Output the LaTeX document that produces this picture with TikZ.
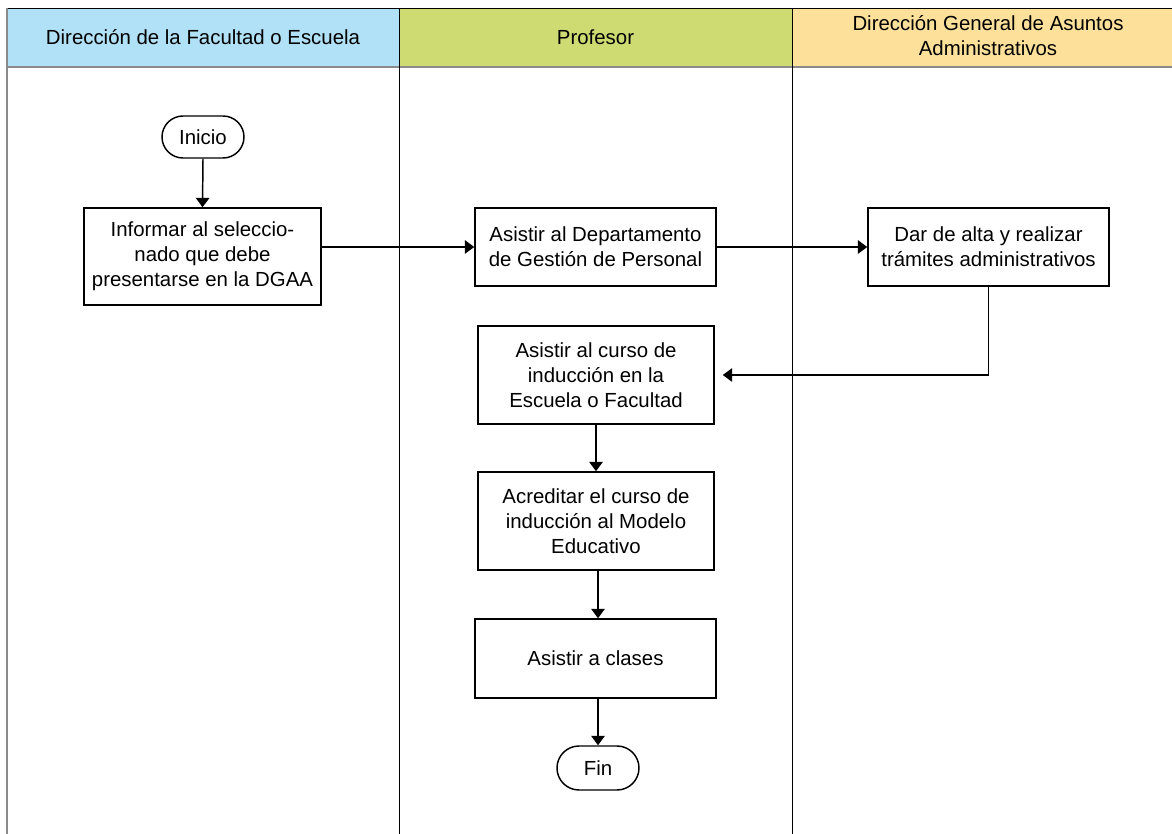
\documentclass[tikz,border=0pt]{standalone}
\usepackage{fontspec}
\setmainfont{Liberation Sans}
\usetikzlibrary{arrows.meta,shapes.misc}
\definecolor{laneA}{HTML}{B1E1F6}
\definecolor{laneB}{HTML}{CEDB73}
\definecolor{laneC}{HTML}{FDE19B}
\definecolor{sepgray}{HTML}{8A8A8A}
\tikzset{
  proc/.style={draw=black, line width=1.1pt, fill=white, align=center, inner sep=2pt,
    font=\fontsize{15.3pt}{18.8pt}\selectfont},
  term/.style={draw=black, line width=1.1pt, fill=white, rounded rectangle, align=center,
    inner sep=0pt, font=\fontsize{15.3pt}{18.8pt}\selectfont},
  flow/.style={line width=1.1pt, -{Triangle[length=7pt,width=10pt]}},
  head/.style={align=center, font=\fontsize{15.3pt}{18.8pt}\selectfont},
}
\begin{document}
\begin{tikzpicture}[x=0.75pt,y=-0.75pt]
\useasboundingbox (0,0) rectangle (1172,834);
% header fills
\fill[laneA] (7,8) rectangle (399,67);
\fill[laneB] (399,8) rectangle (792,67);
\fill[laneC] (792,8) rectangle (1172,67);
\draw[black, line width=0.6pt] (7,8) -- (1172,8);
\draw[sepgray, line width=0.8pt] (7,67) -- (1172,67);
\draw[sepgray, line width=0.8pt] (7,8) -- (7,834);
\draw[black, line width=0.6pt] (399,8) -- (399,834);
\draw[black, line width=0.6pt] (792,8) -- (792,834);
\node[head] (hA) at (203,37.5) {Dirección de la Facultad o Escuela};
\node[head] (hB) at (595.5,37.5) {Profesor};
\node[head] (hC) at (988,36) {Dirección General de Asuntos\\Administrativos};
% nodes
\node[term, minimum width=82*0.75pt, minimum height=42*0.75pt] (ini) at (203,137) {Inicio};
\node[proc, minimum width=237*0.75pt, minimum height=97*0.75pt] (inf) at (202.5,256.5) {Informar al seleccio-\\nado que debe\\presentarse en la DGAA};
\node[proc, minimum width=241*0.75pt, minimum height=78*0.75pt] (dep) at (595.5,247) {Asistir al Departamento\\de Gestión de Personal};
\node[proc, minimum width=241*0.75pt, minimum height=78*0.75pt] (dar) at (988.5,247) {Dar de alta y realizar\\trámites administrativos};
\node[proc, minimum width=236*0.75pt, minimum height=98*0.75pt] (cur) at (596,375) {Asistir al curso de\\inducción en la\\Escuela o Facultad};
\node[proc, minimum width=236*0.75pt, minimum height=98*0.75pt] (acr) at (596,521) {Acreditar el curso de\\inducción al Modelo\\Educativo};
\node[proc, minimum width=241*0.75pt, minimum height=79*0.75pt] (cla) at (595.5,658.5) {Asistir a clases};
\node[term, minimum width=82*0.75pt, minimum height=44*0.75pt] (fin) at (598,768) {Fin};
% connectors
\draw[flow] (ini.south) -- (inf.north);
\draw[flow] (inf.east |- dep.west) -- (dep.west);
\draw[flow] (dep.east) -- (dar.west);
\draw[flow, shorten >=6pt] (dar.south) |- (cur.east);
\draw[flow] (cur.south) -- (acr.north);
\draw[flow] (fin.north |- acr.south) -- (fin.north |- cla.north);
\draw[flow] (fin.north |- cla.south) -- (fin.north);
\end{tikzpicture}
\end{document}
